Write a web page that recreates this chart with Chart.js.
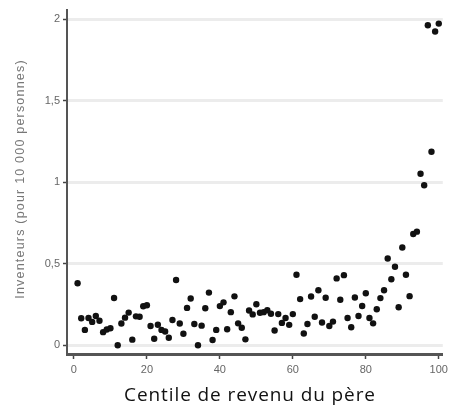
<!DOCTYPE html>
<html>
<head>
<meta charset="utf-8">
<script src="https://cdn.jsdelivr.net/npm/chart.js@4.4.1/dist/chart.umd.min.js"></script>
<style>
  html, body { margin: 0; padding: 0; background: #fff; }
  #wrap { width: 452px; height: 413px; }
</style>
</head>
<body>
<div id="wrap"><canvas id="c" width="452" height="413"></canvas></div>
<script>
const centiles = Array.from({length: 100}, (_, i) => i + 1);
const inventors = [
  0.38, 0.165, 0.094, 0.167, 0.143, 0.179, 0.15, 0.08, 0.096, 0.104,
  0.29, 0.0, 0.133, 0.169, 0.20, 0.034, 0.177, 0.175, 0.239, 0.245,
  0.118, 0.04, 0.126, 0.094, 0.084, 0.046, 0.155, 0.40, 0.133, 0.07,
  0.229, 0.287, 0.13, 0.0, 0.12, 0.227, 0.323, 0.032, 0.094, 0.24,
  0.263, 0.098, 0.203, 0.30, 0.134, 0.107, 0.036, 0.213, 0.189, 0.251,
  0.199, 0.203, 0.215, 0.193, 0.09, 0.191, 0.137, 0.167, 0.125, 0.191,
  0.432, 0.283, 0.072, 0.13, 0.299, 0.175, 0.337, 0.139, 0.291, 0.118,
  0.145, 0.41, 0.279, 0.43, 0.167, 0.11, 0.293, 0.179, 0.241, 0.319,
  0.167, 0.134, 0.221, 0.289, 0.337, 0.532, 0.405, 0.482, 0.233, 0.60,
  0.432, 0.301, 0.683, 0.697, 1.052, 0.982, 1.964, 1.187, 1.926, 1.974
];
const xTicks = [0, 20, 40, 60, 80, 100];
const yTicks = [0, 0.5, 1, 1.5, 2];
const xTitle = 'Centile de revenu du père';
const yTitle = 'Inventeurs (pour 10 000 personnes)';

const points = centiles.map((c, i) => ({x: c, y: inventors[i]}));

const titlePlugin = {
  id: 'titles',
  afterDraw(chart) {
    const ctx = chart.ctx;
    ctx.save();
    ctx.fillStyle = '#111';
    ctx.font = '19px "Open Sans"';
    try { ctx.letterSpacing = '0.9px'; } catch (e) {}
    ctx.textAlign = 'center';
    ctx.textBaseline = 'middle';
    ctx.fillText(xTitle, 250, 396);
    ctx.translate(21, 179);
    ctx.rotate(-Math.PI / 2);
    ctx.fillStyle = '#777';
    ctx.font = '12.5px "Liberation Sans"';
    try { ctx.letterSpacing = '1.2px'; } catch (e) {}
    ctx.fillText(yTitle, 0, 0);
    ctx.restore();
  }
};

new Chart(document.getElementById('c'), {
  type: 'scatter',
  data: {
    datasets: [{
      data: points,
      backgroundColor: '#111',
      borderColor: '#111',
      pointRadius: 3.2,
      pointBorderWidth: 0,
      pointHoverRadius: 3.2
    }]
  },
  options: {
    responsive: false,
    animation: false,
    events: [],
    layout: { padding: { top: 3, right: 4, left: 0, bottom: 0 } },
    plugins: { legend: { display: false }, tooltip: { enabled: false } },
    scales: {
      x: {
        type: 'linear',
        min: -1.9,
        max: 101.1,
        afterBuildTicks: (s) => { s.ticks = xTicks.map(v => ({value: v})); },
        afterFit: (s) => { s.height = 59; },
        grid: { display: true, drawOnChartArea: false, drawTicks: true, tickLength: 5, tickColor: '#444', tickWidth: 1.5 },
        border: { display: true, color: '#555', width: 3 },
        ticks: { color: '#666', font: { family: 'Liberation Sans', size: 11 }, padding: 4, maxRotation: 0 }
      },
      y: {
        type: 'linear',
        min: -0.054,
        max: 2.06,
        afterBuildTicks: (s) => { s.ticks = yTicks.map(v => ({value: v})); },
        afterFit: (s) => { s.width = 67; },
        grid: { display: true, drawOnChartArea: true, color: '#ececec', lineWidth: 3, drawTicks: true, tickLength: 4, tickColor: '#444', tickWidth: 1.5 },
        border: { display: true, color: '#555', width: 2 },
        ticks: { color: '#666', font: { family: 'Liberation Sans', size: 11 }, padding: 3,
                 callback: (v) => String(v).replace('.', ',') }
      }
    }
  },
  plugins: [titlePlugin]
});
</script>
</body>
</html>
